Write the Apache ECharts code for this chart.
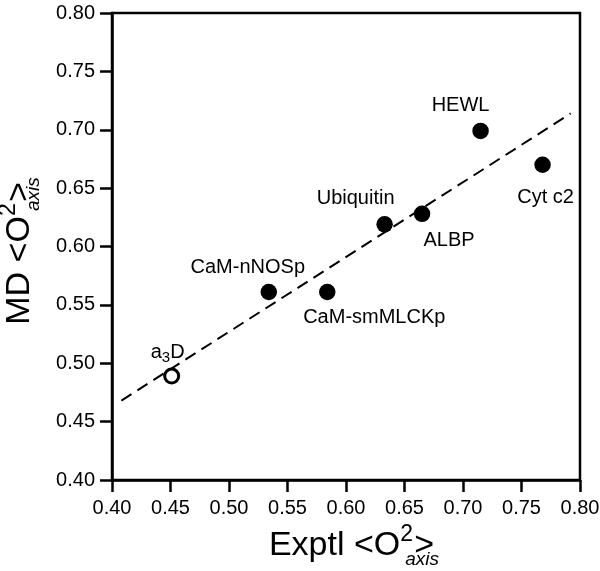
<!DOCTYPE html>
<html>
<head>
<meta charset="utf-8">
<script src="https://cdn.jsdelivr.net/npm/echarts@6/dist/echarts.min.js"></script>
<style>html,body{margin:0;padding:0;background:#fff}#c{width:600px;height:571px}</style>
</head>
<body>
<div id="c"></div>
<script>
// ---- data ----
var proteinNames = ['CaM-nNOSp', 'CaM-smMLCKp', 'Ubiquitin', 'ALBP', 'HEWL', 'Cyt c2'];
var exptlValues  = [0.534, 0.584, 0.633, 0.665, 0.715, 0.768];
var mdValues     = [0.561, 0.561, 0.619, 0.628, 0.699, 0.670];
var openName = 'a3D';
var openExptl = [0.451];
var openMD = [0.489];
var fitLineX = [0.408, 0.792];
var fitLineY = [0.468, 0.714];
var axisTicks = ['0.40','0.45','0.50','0.55','0.60','0.65','0.70','0.75','0.80'];

var FONT = "'Liberation Sans', Arial, Helvetica, sans-serif";
var labelOffsets = {
  'CaM-nNOSp': [-21, -25],
  'CaM-smMLCKp': [47, 25],
  'Ubiquitin': [-29, -26],
  'ALBP': [27, 27],
  'HEWL': [-20, -25],
  'Cyt c2': [3, 33]
};

var filledData = proteinNames.map(function (n, i) {
  return {
    name: n,
    value: [exptlValues[i], mdValues[i]],
    label: { show: true, position: 'inside', offset: labelOffsets[n], formatter: n }
  };
});
var openData = openExptl.map(function (x, i) {
  return {
    name: openName,
    value: [x, openMD[i]],
    label: {
      show: true, position: 'inside', offset: [-4, -24],
      formatter: '{n|a}{s|3}{n|D}',
      rich: {
        n: { fontSize: 20, fontFamily: FONT, color: '#000', lineHeight: 26 },
        s: { fontSize: 15, fontFamily: FONT, color: '#000', verticalAlign: 'bottom', lineHeight: 15 }
      }
    }
  };
});
var lineData = fitLineX.map(function (x, i) { return [x, fitLineY[i]]; });

var nameRich = {
  m: { fontSize: 34, fontFamily: FONT, color: '#000', lineHeight: 46, align: 'left' },
  sup: { fontSize: 23, fontFamily: FONT, color: '#000', lineHeight: 21, verticalAlign: 'top', width: 0, align: 'left' },
  sub: { fontSize: 19, fontFamily: FONT, fontStyle: 'italic', color: '#000', lineHeight: 19, verticalAlign: 'bottom', width: 9, padding: [0, 0, 0, 5], align: 'left' }
};

function axisCommon() {
  return {
    type: 'value', min: 0.4, max: 0.8, interval: 0.05,
    axisLine: { show: true, onZero: false, lineStyle: { color: '#000', width: 2.5 } },
    axisTick: { show: true, inside: false, length: 12, lineStyle: { color: '#000', width: 2.5 } },
    splitLine: { show: false },
    axisLabel: {
      fontSize: 20, fontFamily: FONT, color: '#000',
      showMinLabel: true, showMaxLabel: true, hideOverlap: false,
      formatter: function (v) {
        var idx = Math.round((v - 0.4) / 0.05);
        return axisTicks[idx] !== undefined ? axisTicks[idx] : v.toFixed(2);
      }
    },
    nameLocation: 'middle'
  };
}

var xAxis = axisCommon();
xAxis.axisLabel.margin = 18;
xAxis.name = '{m|Exptl <O}{sup|2}{sub|axis}{m|>}';
xAxis.nameGap = 42;
xAxis.nameTextStyle = { rich: nameRich, padding: [0, 0, 0, 11] };

var yAxis = axisCommon();
yAxis.axisLabel.margin = 17;
yAxis.name = '{m|MD <O}{sup|2}{sub|axis}{m|>}';
yAxis.nameGap = 69;
yAxis.nameRotate = 90;
yAxis.nameTextStyle = { rich: nameRich, padding: [0, 14, 0, 0] };

var chart = echarts.init(document.getElementById('c'), null, { renderer: 'canvas' });
chart.setOption({
  animation: false,
  backgroundColor: '#fff',
  grid: {
    left: 112, right: 20, top: 13, bottom: 91,
    containLabel: false, outerBoundsMode: 'none',
    show: true, borderColor: '#000', borderWidth: 2.5, backgroundColor: 'transparent'
  },
  xAxis: xAxis,
  yAxis: yAxis,
  series: [
    {
      type: 'line', data: lineData, symbol: 'none', silent: true,
      lineStyle: { color: '#000', width: 2, type: [12, 7] }, z: 1
    },
    {
      type: 'scatter', data: filledData, symbol: 'circle', symbolSize: 16.5,
      itemStyle: { color: '#000', opacity: 1 },
      label: { fontSize: 20, fontFamily: FONT, color: '#000', align: 'center', verticalAlign: 'middle' },
      z: 3
    },
    {
      type: 'scatter', data: openData, symbol: 'circle', symbolSize: 14,
      itemStyle: { color: '#fff', borderColor: '#000', borderWidth: 3, opacity: 1 },
      label: { align: 'center', verticalAlign: 'middle' },
      z: 3
    }
  ]
});
</script>
</body>
</html>
